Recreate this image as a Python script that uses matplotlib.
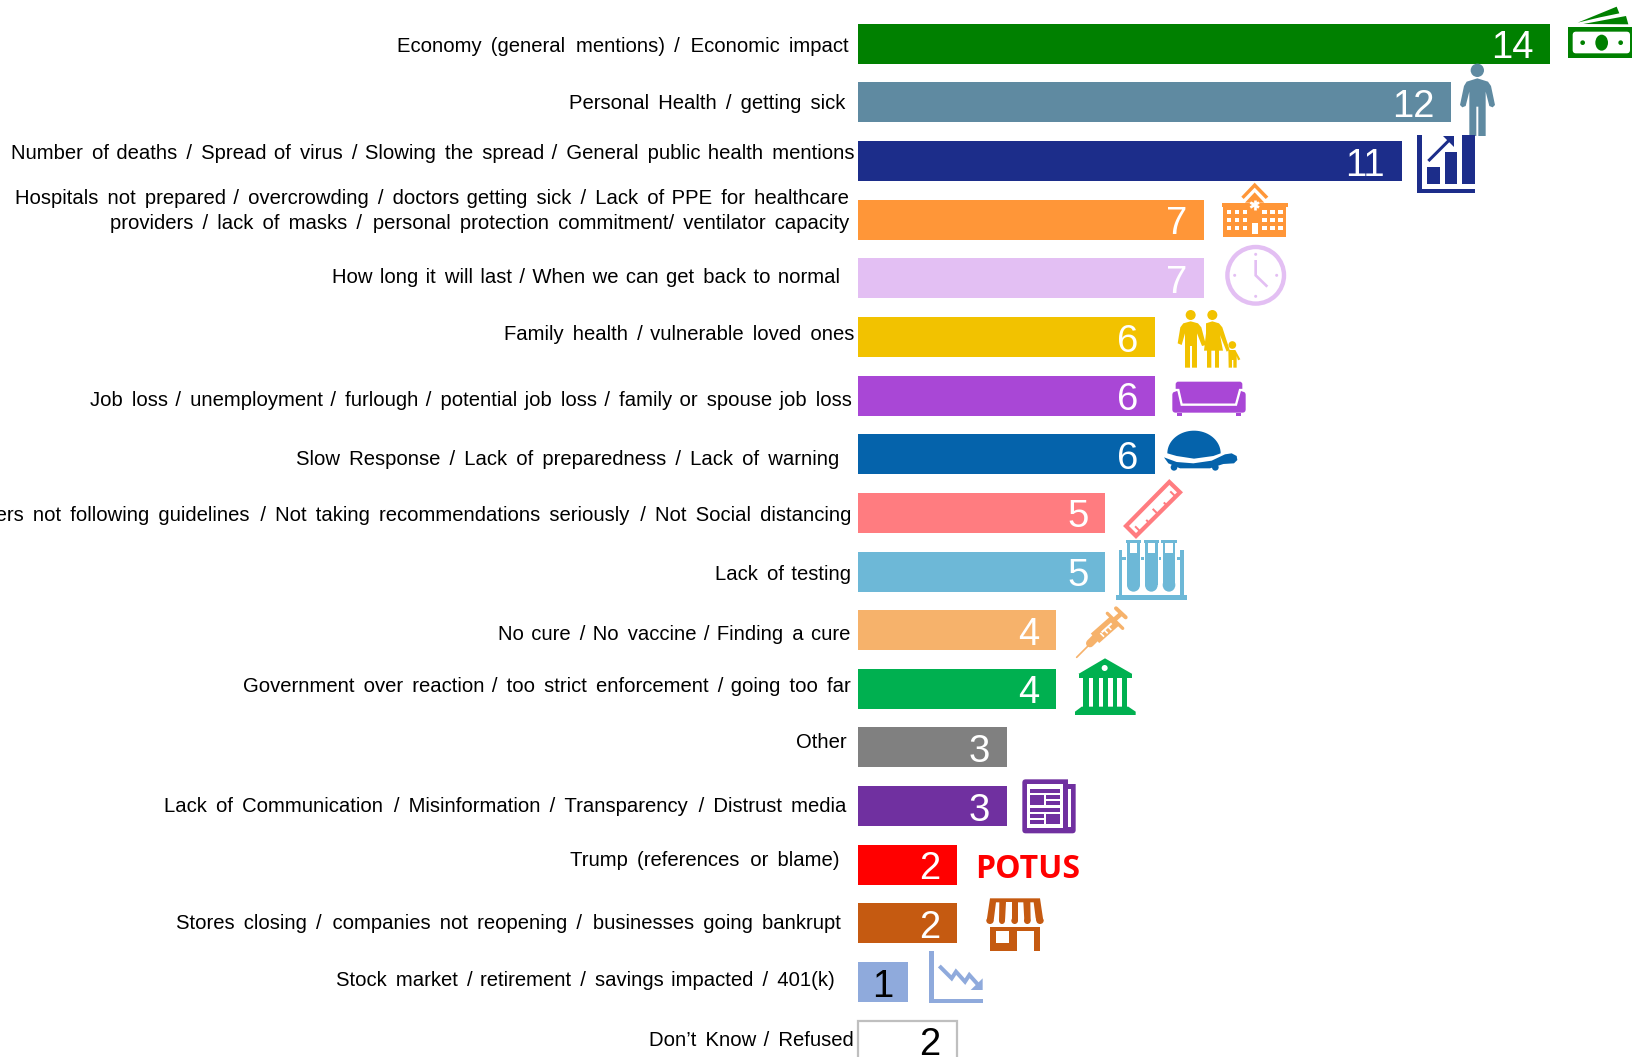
import numpy as np
import matplotlib
matplotlib.use("Agg")
import matplotlib.pyplot as plt
from matplotlib.patches import Polygon, Circle, Rectangle, Ellipse, FancyBboxPatch

categories = [
    "Economy (general mentions) / Economic impact",
    "Personal Health / getting sick",
    "Number of deaths / Spread of virus / Slowing the spread / General public health mentions",
    "Hospitals not prepared / overcrowding / doctors getting sick / Lack of PPE for healthcare\nproviders / lack of masks / personal protection commitment/ ventilator capacity",
    "How long it will last / When we can get back to normal",
    "Family health / vulnerable loved ones",
    "Job loss / unemployment / furlough / potential job loss / family or spouse job loss",
    "Slow Response / Lack of preparedness / Lack of warning",
    "Others not following guidelines / Not taking recommendations seriously / Not Social distancing",
    "Lack of testing",
    "No cure / No vaccine / Finding a cure",
    "Government over reaction / too strict enforcement / going too far",
    "Other",
    "Lack of Communication / Misinformation / Transparency / Distrust media",
    "Trump (references or blame)",
    "Stores closing / companies not reopening / businesses going bankrupt",
    "Stock market / retirement / savings impacted / 401(k)",
    "Don\u2019t Know / Refused",
]
values = [14, 12, 11, 7, 7, 6, 6, 6, 5, 5, 4, 4, 3, 3, 2, 2, 1, 2]
colors = ["#008000", "#5F8AA1", "#1C2D8A", "#FF9638", "#E3BFF3", "#F2C200", "#A947D6", "#0563AB", "#FF7C80",
          "#6DB8D7", "#F6B26B", "#00B050", "#808080", "#7030A0", "#FF0000", "#C55A11", "#8FAADC", "#FFFFFF"]
label_right_px = [849, 845.5, 855, 849, 840.5, 854, 852, 839.5, 851, 851, 850.5, 851, 847, 846.5, 840, 841, 834.5, 854]
label_y_px = [46.8, 103.3, 153.3, 211, 277.3, 335, 401, 459.5, 515.5, 575, 634, 686, 742.5, 807, 860, 923.5, 981, 1040]
# extra word spacing per label line, in hair spaces spread over the line's gaps
label_hairs = [[12], [8], [25], [25, 21], [14], [9], [23], [18], [26], [3], [11], [18], [0], [20], [7], [20], [14], [5]]
value_colors = ["white"] * 16 + ["black", "black"]

W, H = 1633, 1057
X0, UX, Y0, UY = 858.5, 49.4, 43.7, 58.65

plt.rcParams["font.family"] = ["Liberation Sans", "DejaVu Sans"]
fig = plt.figure(figsize=(W / 100, H / 100), dpi=100)
ax = fig.add_axes([0, 0, 1, 1])
ax.set_xlim(-X0 / UX, (W - X0) / UX)
ax.set_ylim((H - Y0) / UY, -Y0 / UY)
ax.axis("off")

ypos = np.arange(len(values))
bars = ax.barh(ypos, values, height=40 / UY, color=colors, linewidth=0)
bars[-1].set_edgecolor("#BFBFBF")
bars[-1].set_linewidth(1.6)

for y, v, c in zip(ypos, values, value_colors):
    ax.annotate(str(v), (v, y), xytext=(-12.2 if v != 1 else -10.8, -0.4), textcoords="offset points", ha="right",
                va="center_baseline", fontsize=27.5, color=c)

# overlay in pixel coordinates for labels and pictograms
ov = fig.add_axes([0, 0, 1, 1], facecolor="none")
ov.set_xlim(0, W)
ov.set_ylim(H, 0)
ov.axis("off")


def spaced(line, total):
    """Spread `total` hair spaces evenly over the gaps between words."""
    parts = line.split(" ")
    gaps = len(parts) - 1
    out = parts[0]
    given = 0
    for i, word in enumerate(parts[1:], 1):
        n = round(total * i / gaps) - given if gaps else 0
        given += n
        out += " " + "\u200a" * n + word
    return out


for lab, hairs, xr, yc in zip(categories, label_hairs, label_right_px, label_y_px):
    txt = "\n".join(spaced(l, h) for l, h in zip(lab.split("\n"), hairs))
    ov.text(xr, yc, txt, ha="right", va="center", fontsize=14.6, color="black",
            linespacing=1.36, multialignment="right")

PX = 0.72

class Z:
    def __init__(self, ox, oy):
        self.ox, self.oy = ox, oy
    def p(self, pts):
        return [(self.ox + a / 3, self.oy + b / 3) for a, b in pts]
    def poly(self, pts, c, z=3, **k):
        ov.add_patch(Polygon(self.p(pts), closed=True, fc=c, ec="none", zorder=z, **k))
    def rect(self, x0, x1, y0, y1, c, z=3):
        ov.add_patch(Rectangle((self.ox + x0 / 3, self.oy + y0 / 3), (x1 - x0) / 3, (y1 - y0) / 3, fc=c, ec="none", zorder=z))
    def circ(self, x, y, r, c, z=3):
        ov.add_patch(Circle((self.ox + x / 3, self.oy + y / 3), r / 3, fc=c, ec="none", zorder=z))
    def ell(self, x, y, rx, ry, c, z=3):
        ov.add_patch(Ellipse((self.ox + x / 3, self.oy + y / 3), 2 * rx / 3, 2 * ry / 3, fc=c, ec="none", zorder=z))
    def rrect(self, x0, x1, y0, y1, r, c, z=3):
        ov.add_patch(FancyBboxPatch((self.ox + (x0 + r) / 3, self.oy + (y0 + r) / 3), (x1 - x0 - 2 * r) / 3, (y1 - y0 - 2 * r) / 3,
                                    boxstyle=f"round,pad={r / 3}", fc=c, ec="none", zorder=z))
    def line(self, pts, c, w, z=3, cap="butt", join="miter"):
        q = np.array(self.p(pts))
        ov.plot(q[:, 0], q[:, 1], color=c, lw=w / 3 * PX, zorder=z, solid_capstyle=cap, solid_joinstyle=join)

W_ = "white"
a = Z(1200, 0)
# money
c = colors[0]
a.rect(1104, 1299, 80, 173, c)
a.rrect(1118, 1290, 95, 160, 10, W_, 4)
a.ell(1205, 128, 19, 24, c, 5)
a.circ(1148, 128, 7, c, 5)
a.circ(1262, 128, 7, c, 5)
a.poly([(1133, 68), (1250, 20), (1258, 40), (1200, 52)], c)
a.poly([(1150, 72), (1278, 48), (1285, 73)], c)
# person
c = colors[1]
a.circ(832, 211, 20, c)
a.poly([(800, 245), (832, 235), (864, 245), (873, 258), (885, 315), (878, 322), (868, 318), (857, 275), (857, 408), (835, 408),
        (835, 320), (829, 320), (829, 408), (808, 408), (808, 275), (797, 318), (787, 322), (780, 315), (792, 258)], c)
# rising chart
c = colors[2]
a.rect(652, 666, 406, 580, c, 4)
a.rect(652, 824, 566, 580, c, 4)
a.rect(682, 719, 500, 551, c, 4)
a.rect(734, 772, 456, 551, c, 4)
a.rect(786, 824, 406, 551, c, 4)
a.line([(685, 483), (748, 420)], W_, 20, 5)
a.poly([(722, 400), (772, 400), (772, 448)], W_, 5)
a.line([(685, 483), (748, 420)], c, 9, 6)
a.poly([(728, 408), (762, 408), (762, 440)], c, 6)
# hospital
c = colors[3]
a.rect(70, 258, 620, 710, c)
a.rect(66, 263, 608, 620, c)
a.poly([(124, 590), (164, 548), (205, 590), (197, 597), (164, 563), (131, 597)], c)
a.poly([(135, 608), (164, 577), (193, 608)], c)
for xx in (80, 104, 128, 186, 210, 234):
    for yy in (630, 654, 678):
        a.rect(xx, xx + 14, yy, yy + 13, W_, 4)
a.rect(155, 173, 668, 702, W_, 4)
for ang in (0, 60, 120):
    dx, dy = 15 * np.sin(np.radians(ang)), 15 * np.cos(np.radians(ang))
    a.line([(164 - dx, 615 - dy), (164 + dx, 615 + dy)], W_, 8, 4)
# clock
c = colors[4]
ov.add_patch(Circle((1255.7, 275.3), 28.3, fc="none", ec=c, lw=4.4 * PX, zorder=3))
a.line([(167, 780), (167, 826), (202, 860)], c, 8)
for xx, yy in ((167, 763), (230, 826), (167, 889), (104, 826)):
    a.circ(xx, yy, 4.5, c)

b = Z(1080, 300)
# family
c = colors[5]
b.circ(332, 45, 15, c)
b.circ(397, 45, 15, c)
b.circ(457, 135, 11.5, c)
b.poly([(310, 70), (332, 64), (354, 70), (364, 82), (378, 135), (366, 138), (351, 100), (351, 203), (336, 203), (336, 138), (330, 138),
        (330, 203), (315, 203), (315, 100), (305, 135), (293, 130), (301, 82)], c)
b.poly([(378, 70), (397, 64), (417, 70), (427, 82), (449, 150), (440, 155), (420, 105), (429, 152), (417, 152), (417, 203), (405, 203),
        (405, 152), (394, 152), (394, 203), (381, 203), (381, 152), (372, 152), (378, 100)], c)
b.poly([(445, 150), (466, 150), (481, 178), (474, 181), (470, 168), (470, 203), (460, 203), (460, 180), (456, 180), (456, 203), (446, 203)], c)
# sofa
c = colors[6]
b.rrect(287, 487, 245, 310, 8, c)
b.rrect(277, 497, 275, 338, 10, c)
b.line([(282, 270), (295, 270), (305, 314), (468, 314), (480, 270), (492, 270)], W_, 7, 4)
b.rect(292, 307, 338, 348, c)
b.rect(467, 482, 338, 348, c)
# turtle
c = colors[7]
t = np.linspace(np.pi, 0, 40)
shell = [(342 + 80 * np.cos(u), 460 - 68 * np.sin(u)) for u in t] + [(400, 468), (342, 476), (290, 468)]
b.poly(shell, c)
b.poly([(252, 472), (290, 486), (340, 490), (395, 482), (435, 463), (455, 460), (470, 468), (472, 480), (462, 490), (430, 492), (390, 505), (300, 505), (265, 490)], c)
b.circ(282, 502, 10, c)
b.circ(406, 502, 10, c)
# ruler
c = colors[8]
ov.add_patch(Polygon(b.p([(268, 546), (300, 577), (168, 708), (138, 678)]), closed=True, fc="white", ec=c, lw=4.2 * PX, zorder=3))
for s, ln in zip(np.linspace(0.1, 0.9, 5), (16, 9, 16, 9, 16)):
    px, py = 168 + s * 132, 708 - s * 131
    b.line([(px, py), (px - ln, py - ln)], c, 6, 4)
# test tubes
c = colors[9]
b.rect(108, 321, 885, 899, c)
b.rect(117, 127, 750, 885, c)
b.rect(301, 311, 750, 885, c)
b.rect(117, 311, 770, 780, c)
for x0, x1 in ((141, 180), (195, 233), (248, 286)):
    b.rect(x0 - 4, x1 + 4, 765, 781, W_, 4)
    b.rect(x0, x1, 725, 855, c, 4)
    b.ell((x0 + x1) / 2, 855, (x1 - x0) / 2, 20, c, 4)
    b.rect(x0 - 4, x1 + 4, 720, 728, c, 5)
    b.rect(x0 + 8, x1 - 8, 728, 760, W_, 5)

d = Z(900, 600)
# syringe
c = colors[10]
d.line([(530, 172), (572, 130)], c, 5, cap="round")
d.line([(570, 130), (590, 110)], c, 24, cap="round")
d.line([(585, 115), (645, 62)], c, 38)
d.line([(640, 62), (667, 38)], c, 14)
d.line([(648, 25), (677, 52)], c, 12, cap="round")
d.line([(622, 40), (668, 85)], c, 10, cap="round")
for s in (0, 1, 2):
    d.line([(601 + 11 * s, 99 - 10 * s), (612 + 11 * s, 110 - 10 * s)], W_, 5, 4)
d.line([(605, 97), (635, 70)], W_, 6, 4)
# bank
c = colors[11]
d.poly([(615, 175), (697, 222), (535, 222)], c)
d.rect(537, 695, 222, 235, c)
d.circ(614, 204, 9, W_, 4)
for x0, x1 in ((550, 566), (580, 596), (608, 624), (638, 652), (667, 682)):
    d.rect(x0, x1, 235, 322, c)
d.poly([(525, 345), (525, 335), (545, 320), (685, 320), (707, 335), (707, 345)], c)
# newspaper
c = colors[13]
d.rrect(367, 527, 538, 700, 10, c)
d.rect(503, 527, 530, 552, W_, 4)
d.rect(382, 490, 552, 685, W_, 4)
d.rect(503, 513, 567, 680, W_, 4)
for x0, x1, y0, y1 in ((390, 480, 567, 578), (390, 432, 586, 614), (438, 480, 586, 597), (438, 480, 603, 614),
                       (390, 480, 624, 635), (390, 432, 642, 653), (390, 432, 660, 671), (438, 480, 642, 671)):
    d.rect(x0, x1, y0, y1, c, 5)

e = Z(850, 830)
# POTUS
ov.text(1027.5, 865, "POTUS", color="#FF0000", fontsize=23, fontweight="bold", family="Open Sans", ha="center", va="center_baseline", zorder=3)
# store
c = colors[15]
e.poly([(420, 205), (570, 205), (580, 272), (410, 272)], c)
e.rect(420, 570, 290, 362, c)
e.rect(438, 478, 302, 340, W_, 4)
e.rect(500, 552, 302, 362, W_, 4)
for x0, x1, xb0, xb1 in ((438, 448, 431, 447), (469, 485, 466, 485), (504, 520, 504, 523), (541, 551, 542, 558)):
    e.poly([(x0, 217), (x1, 217), (xb1, 272), (xb0, 272)], W_, 4)
    e.ell((xb0 + xb1) / 2, 272, (xb1 - xb0) / 2, 11, W_, 4)
for xc, rx in ((420, 11), (456, 9), (494, 10), (532, 10), (570, 11)):
    e.ell(xc, 272, rx, 10, c, 5)
# stock chart
c = colors[16]
e.rect(238, 252, 362, 520, c)
e.rect(238, 398, 508, 520, c)
e.line([(268, 408), (305, 445), (318, 425), (345, 455), (358, 435), (385, 465)], c, 12)
e.poly([(362, 480), (398, 445), (398, 480)], c)

fig.savefig("out.png", dpi=100)
